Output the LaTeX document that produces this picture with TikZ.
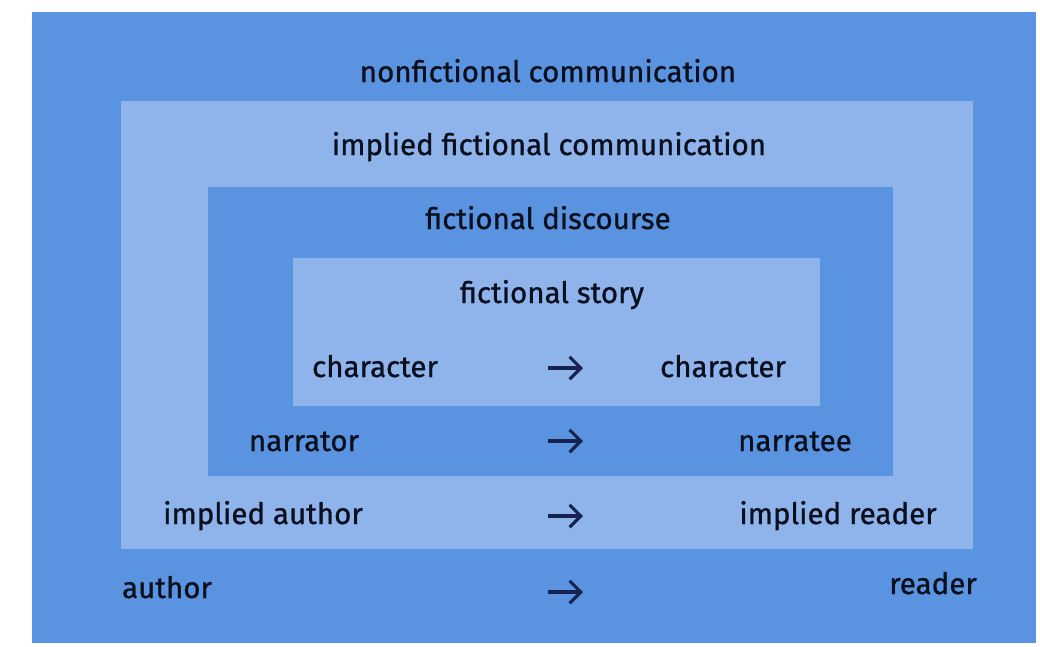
\documentclass[tikz,border=0pt]{standalone}
\usepackage{fontspec}
\setmainfont{Fira Sans}[FakeBold=0.9]
\usetikzlibrary{arrows.meta}

\definecolor{darkband}{RGB}{90,147,224}
\definecolor{lightband}{RGB}{143,180,235}
\definecolor{ink}{RGB}{10,15,30}
\definecolor{arrowink}{RGB}{22,34,80}

\begin{document}
\begin{tikzpicture}[
x=0.025cm, y=-0.025cm,
words/.style={anchor=base, text=ink, inner sep=0pt, font=\fontsize{21}{25}\selectfont},
says/.style={-{Straight Barb[length=8pt,width=16pt]}, line width=2.2pt, draw=arrowink},
]
  \useasboundingbox (0,0) rectangle (1040,646);
  \fill[white] (0,0) rectangle (1040,646);
  % the four levels, dark and light by turns
  \fill[darkband]  (32,12)   rectangle (1036,643);
  \fill[lightband] (121,101) rectangle (973,549);
  \fill[darkband]  (208,187) rectangle (893,476);
  \fill[lightband] (293,258) rectangle (820,406);

  \node[words] (nonfic)  at (548,82)  {nonfictional communication};
  \node[words] (implied) at (549,155) {implied fictional communication};
  \node[words] (disc)    at (548,229) {fictional discourse};
  \node[words] (story)   at (552,303) {fictional story};

  \node[words] (char1) at (375,377) {character};
  \node[words] (char2) at (723,377) {character};
  \node[words] (narr)  at (304,451) {narrator};
  \node[words] (narree) at (795,451) {narratee};
  \node[words] (iauth) at (263,524) {implied author};
  \node[words] (iread) at (838,524) {implied reader};
  \node[words] (auth)  at (167,598) {author};
  \node[words] (read)  at (933,594) {reader};

  % one short arrow per level, sender to receiver
  \foreach \y/\n in {368/a, 441/b, 516/c, 592/d} {
    \coordinate (\n-from) at (548,\y);
    \coordinate (\n-to)   at (583,\y);
    \draw[says] (\n-from) -- (\n-to);
  }
\end{tikzpicture}
\end{document}
